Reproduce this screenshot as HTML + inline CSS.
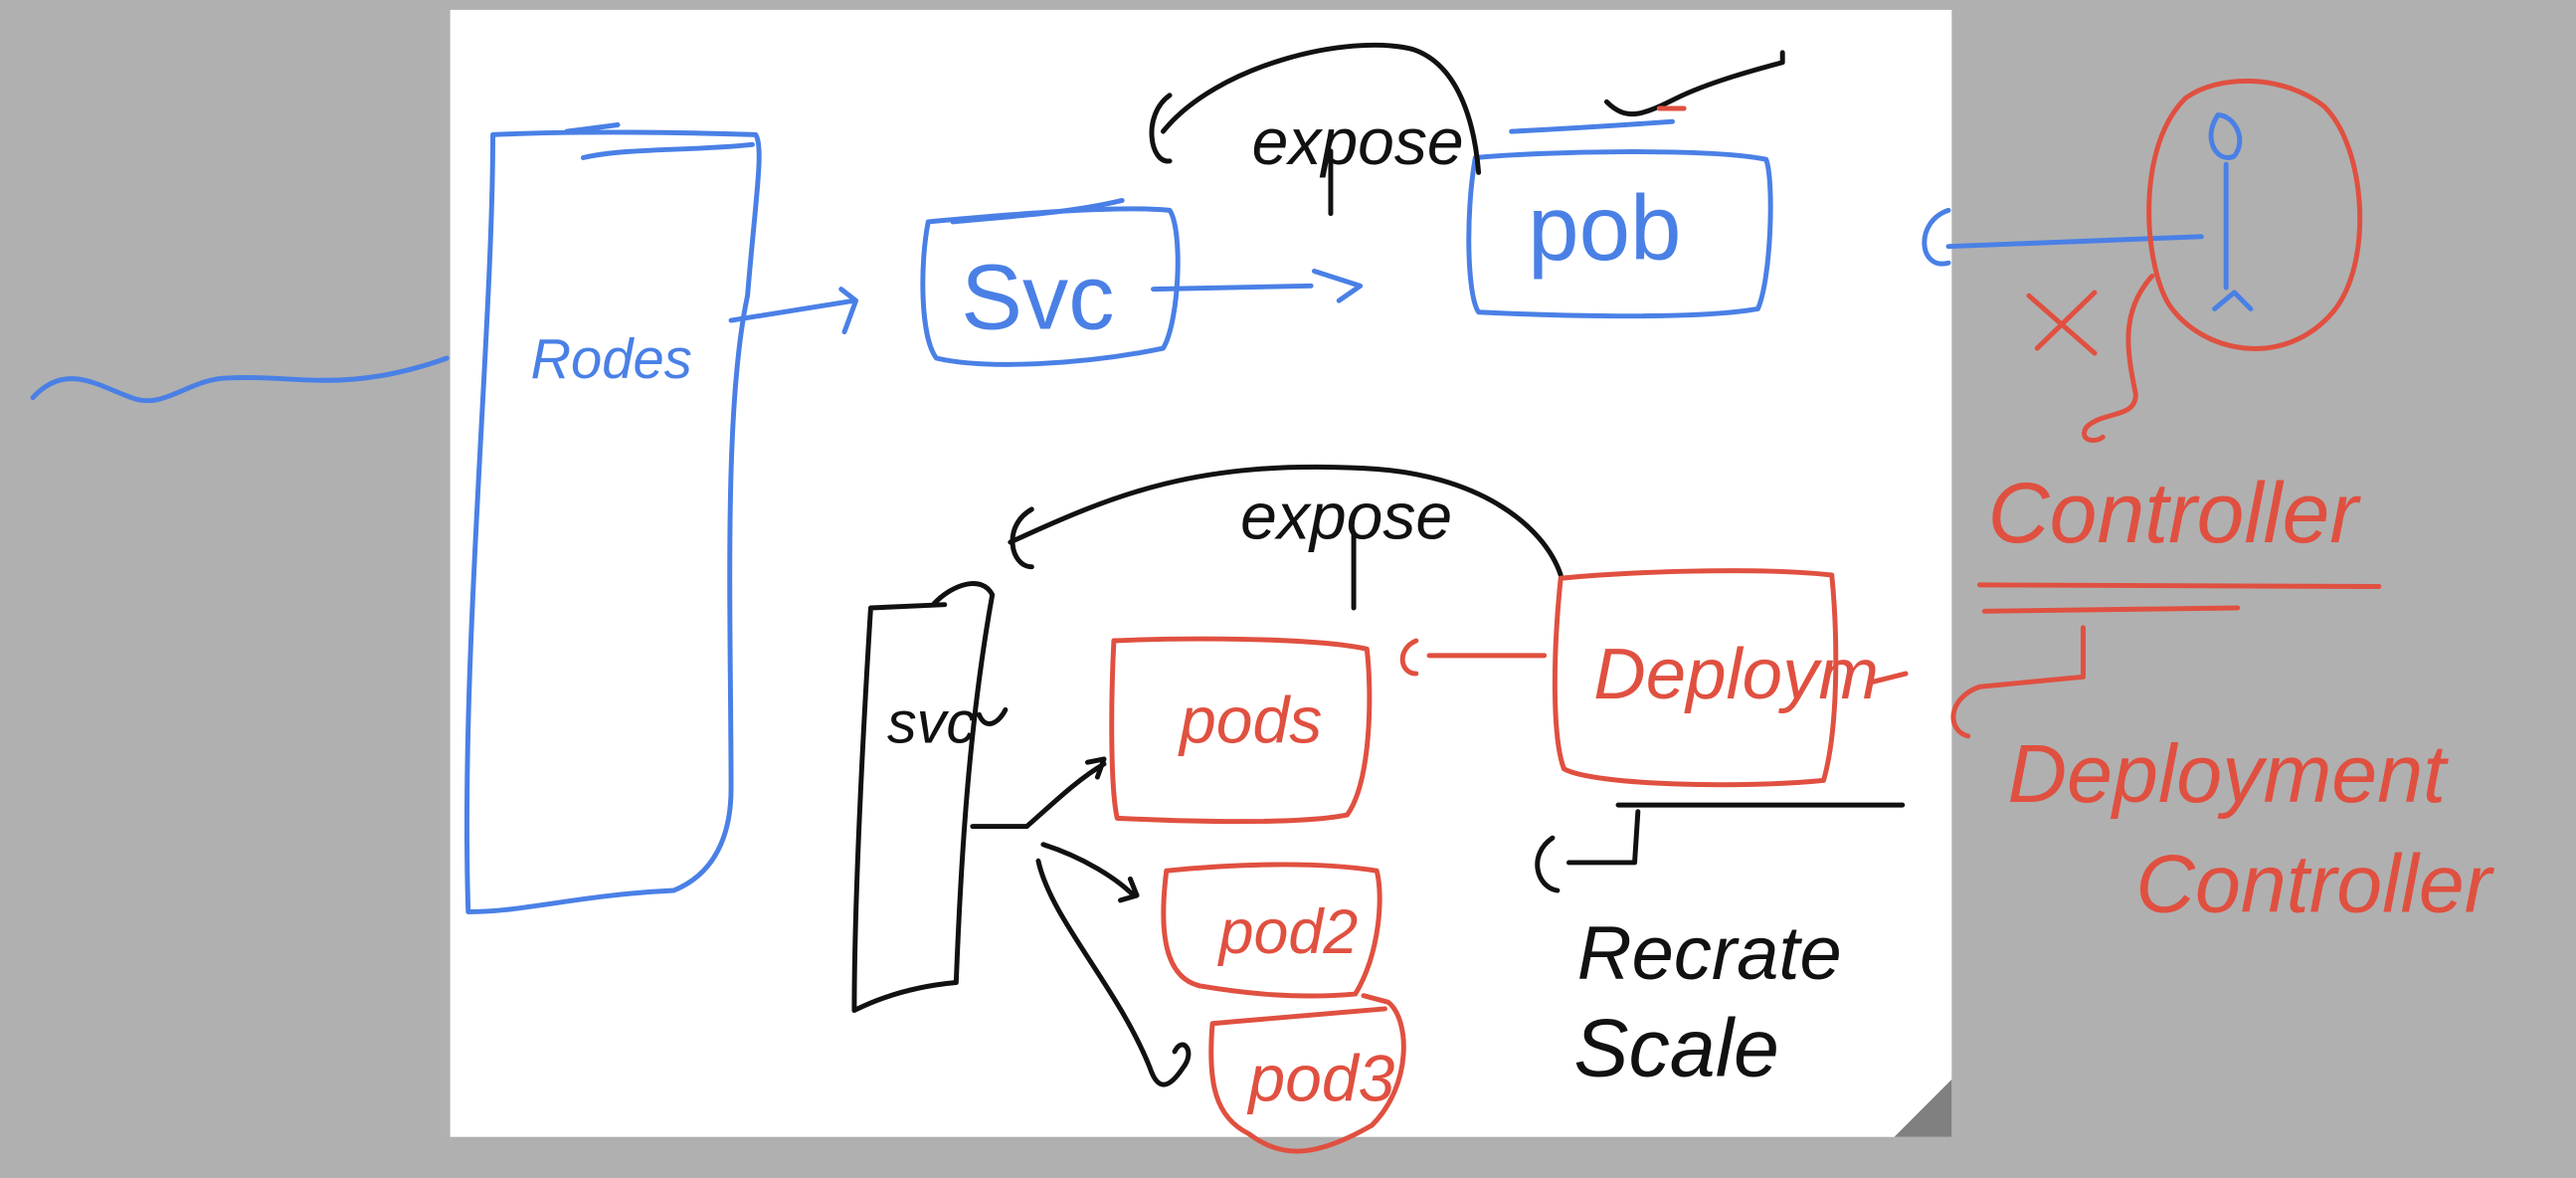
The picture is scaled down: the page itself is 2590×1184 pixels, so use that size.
<!DOCTYPE html>
<html><head><style>
html,body{margin:0;padding:0;background:#b0b0b0;}
svg{display:block;}
text{font-family:"Liberation Sans",sans-serif;}
</style></head><body>
<svg width="2590" height="1184" viewBox="0 0 1568 717" preserveAspectRatio="none" xmlns="http://www.w3.org/2000/svg">
<rect width="1568" height="717" fill="#b0b0b0"/>
<rect x="274" y="6" width="914" height="686" fill="#fff"/>
<polygon points="1188,657 1188,692 1153,692" fill="#808080"/>
<g fill="none" stroke-linecap="round" stroke-linejoin="round" stroke-width="3">
<!-- blue -->
<g stroke="#4a80e6">
<path d="M20,242 C40,220 60,235 80,242 C100,250 115,230 140,230 C180,228 210,240 272,218"/>
<path d="M300,82 C300,200 280,400 285,555 C320,555 350,545 410,542 C440,530 445,500 445,480 C445,380 440,250 455,180 C460,120 465,90 460,82 C400,80 340,80 300,82 Z"/>
<path d="M355,96 C380,90 420,92 458,88"/>
<path d="M345,80 L376,76"/>
<text x="323" y="230" font-size="34" fill="#4a80e6" stroke="none" font-style="italic">Rodes</text>
<path d="M445,195 L520,183 M512,176 L521,183 L514,202"/>
<path d="M565,135 C560,160 560,205 570,218 C600,225 660,222 708,212 C718,195 720,140 712,128 C680,125 620,130 565,135 Z"/>
<path d="M580,135 C610,132 650,130 683,122"/>
<text x="585" y="200" font-size="56" fill="#4a80e6" stroke="none">Svc</text>
<path d="M702,176 L798,174 M800,165 L828,174 L815,183"/>
<path d="M898,96 C892,130 893,180 900,190 C940,192 1030,195 1070,188 C1078,170 1080,110 1075,97 C1040,90 940,92 898,96 Z"/>
<path d="M920,80 C960,78 990,76 1018,74"/>
<text x="930" y="158" font-size="56" fill="#4a80e6" stroke="none">pob</text>
<path d="M1186,128 C1165,135 1168,165 1186,160"/>
<path d="M1186,150 L1340,144"/>
<path d="M1350,70 C1340,85 1350,100 1360,95 C1368,85 1360,70 1350,70 M1355,100 L1355,175 M1348,188 L1360,178 L1370,188"/>
</g>
<!-- black -->
<g stroke="#111">
<path d="M712,58 C695,70 700,100 712,98"/>
<path d="M708,80 C740,40 820,20 860,30 C890,40 898,80 900,105"/>
<text x="762" y="100" font-size="40" fill="#111" stroke="none" font-style="italic">expose</text>
<path d="M810,92 L810,130"/>
<path d="M978,62 C990,74 1000,70 1020,60 C1040,50 1070,42 1085,38 L1085,32"/>
<path d="M628,310 C610,320 615,345 628,345"/>
<path d="M615,330 C680,300 730,280 830,285 C900,288 940,320 950,350"/>
<text x="755" y="328" font-size="40" fill="#111" stroke="none" font-style="italic">expose</text>
<path d="M824,325 L824,370"/>
<path d="M530,370 C525,450 520,550 520,615 C540,605 560,600 582,598 C585,520 590,440 604,362 C598,350 580,355 568,368 M530,370 L575,368"/>
<text x="540" y="452" font-size="36" fill="#111" stroke="none" font-style="italic">svc</text>
<path d="M596,435 C600,445 608,440 612,432"/>
<path d="M592,503 L625,503 C640,490 655,475 672,465 M662,464 L672,462 L668,473"/>
<path d="M635,514 C660,522 680,535 690,545 M682,548 L692,545 L688,535"/>
<path d="M632,524 C640,560 680,600 700,650 C705,665 712,662 720,650 C728,640 720,630 715,640"/>
<path d="M985,490 L1158,490"/>
<path d="M997,494 L995,525 L955,525 M945,510 C930,520 935,540 948,542"/>
<text x="960" y="596" font-size="46" fill="#111" stroke="none" font-style="italic">Recrate</text>
<text x="958" y="655" font-size="50" fill="#111" stroke="none" font-style="italic">Scale</text>
</g>
<!-- red -->
<g stroke="#e05040">
<path d="M1010,66 L1025,66"/>
<path d="M1330,60 C1300,90 1305,160 1320,185 C1340,215 1390,225 1420,190 C1445,160 1440,90 1415,65 C1390,45 1350,45 1330,60 Z"/>
<path d="M1235,180 L1275,215 M1275,178 L1240,212"/>
<path d="M1310,168 C1290,190 1295,215 1300,240 C1300,255 1280,250 1270,260 C1265,268 1275,270 1280,266"/>
<text x="1210" y="330" font-size="52" fill="#e05040" stroke="none" font-style="italic">Controller</text>
<path d="M1205,356 L1448,357"/>
<path d="M1208,372 L1362,370"/>
<path d="M1268,382 L1268,412 L1205,418 C1185,425 1185,445 1198,448"/>
<text x="1222" y="488" font-size="50" fill="#e05040" stroke="none" font-style="italic">Deployment</text>
<text x="1300" y="555" font-size="50" fill="#e05040" stroke="none" font-style="italic">Controller</text>
<path d="M678,390 C676,430 676,480 680,498 C720,500 790,502 820,496 C835,475 835,420 832,395 C800,388 720,388 678,390 Z"/>
<text x="718" y="452" font-size="40" fill="#e05040" stroke="none" font-style="italic">pods</text>
<path d="M940,399 L870,399 M862,390 C850,395 852,410 862,410"/>
<path d="M950,352 C945,400 945,450 952,468 C970,478 1060,480 1110,475 C1120,440 1118,380 1115,350 C1070,345 990,348 950,352 Z"/>
<text x="970" y="425" font-size="44" fill="#e05040" stroke="none" font-style="italic">Deploym</text>
<path d="M1140,415 L1160,410"/>
<path d="M710,530 C705,570 710,595 730,600 C760,605 790,608 825,605 C840,580 842,545 838,530 C800,524 750,526 710,530 Z"/>
<text x="742" y="580" font-size="38" fill="#e05040" stroke="none" font-style="italic">pod2</text>
<path d="M738,623 C735,660 740,680 760,690 C780,705 800,705 835,685 C860,660 858,620 845,610 L830,606 M738,623 C770,620 800,618 843,614"/>
<text x="760" y="670" font-size="40" fill="#e05040" stroke="none" font-style="italic">pod3</text>
</g>
</g>
</svg>
</body></html>
